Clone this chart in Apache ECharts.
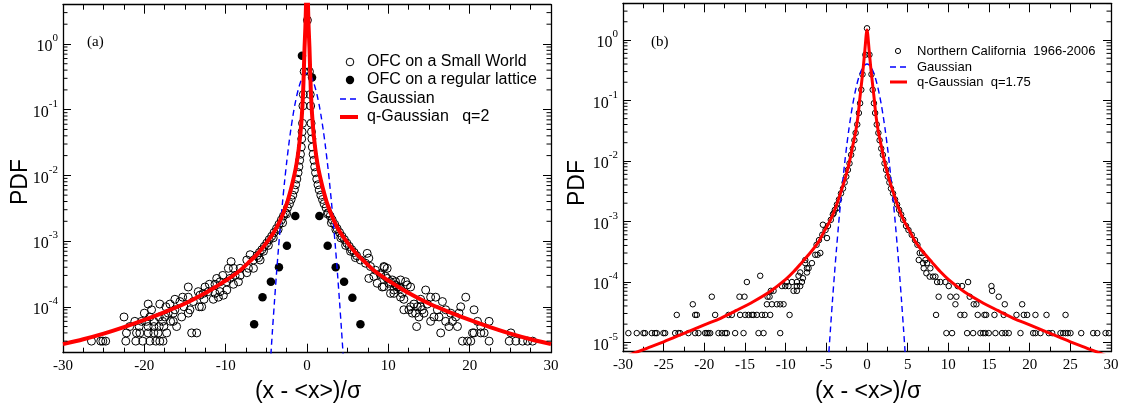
<!DOCTYPE html>
<html><head><meta charset="utf-8">
<script src="https://cdn.jsdelivr.net/npm/echarts@6/dist/echarts.min.js"></script>
<style>html,body{margin:0;padding:0;background:#fff}#c{width:1123px;height:409px}</style>
</head><body><div id="c"></div>
<script>
// ---------- Panel (a) data ----------
const smallWorldA = [
 [0.05,2.3],[-0.35,0.38],[0.3,0.38],[-0.45,0.17],[0.4,0.17],[-0.5,0.114],[0.45,0.114],
 [-0.55,0.062],[0.5,0.062],[-0.6,0.046],[0.55,0.046],[-0.65,0.036],[0.6,0.036],[-0.7,0.027],[0.65,0.027],
 [-0.8,0.021],[0.75,0.021],[-0.9,0.017],[0.85,0.017],[-1.0,0.0135],[0.95,0.0135],[-1.1,0.011],[1.05,0.011],
 [-1.25,0.0088],[1.2,0.0088],[-1.4,0.0072],[1.35,0.0072],[-1.55,0.006],[1.5,0.006],[-1.75,0.005],[1.7,0.005],
 [-1.95,0.0043],[1.9,0.0043],[-2.15,0.0037],[2.1,0.0037],[-2.4,0.0032],[2.35,0.0032],[-2.65,0.0027],[2.6,0.0027],
 [-2.9,0.0024],[2.85,0.0024],[-3.15,0.0021],[3.1,0.0021],[-3.45,0.0018],[3.4,0.0018],[-3.75,0.00155],[3.7,0.00155],
 [-4.05,0.00135],[4.0,0.00135],[-4.35,0.00118],[4.3,0.00118],[-4.65,0.00105],[4.6,0.00105],[-4.95,0.00093],[4.9,0.00093],
 [-5.25,0.00083],[5.2,0.00083],[-5.55,0.00074],[5.5,0.00074],[-5.85,0.00067],[5.8,0.00067],[-6.15,0.0006],[6.1,0.0006],
 [-2.5,0.0026],[2.5,0.0026],[-3.0,0.0019],[3.0,0.0019],[-3.55,0.0015],[3.55,0.0015],[-4.15,0.00112],[4.15,0.00112],
 [-4.75,0.00086],[4.75,0.00086],[-5.35,0.0007],[5.35,0.0007],[-5.95,0.00056],[5.95,0.00056],
 // left tail
 [-26.5,3e-5],[-25.36,3e-5],[-25.1,3e-5],[-24.75,3e-5],[-22.28,3e-5],[-21.05,3e-5],[-20.2,3e-5],[-19.32,3e-5],[-18.58,3e-5],[-18.1,3e-5],[-17.7,3e-5],
 [-22.2,4e-5],[-20.96,4e-5],[-20.55,4e-5],[-19.53,4e-5],[-18.83,4e-5],[-18.3,4e-5],[-17.26,4e-5],[-14.18,4e-5],[-13.56,4e-5],
 [-21.8,5e-5],[-20.64,5e-5],[-19.53,5e-5],[-18.83,5e-5],[-18.17,5e-5],[-17.6,5e-5],[-16.03,5e-5],
 [-21.17,6e-5],[-20.35,6e-5],[-19.73,6e-5],[-18.83,6e-5],[-17.76,6e-5],[-16.77,6e-5],[-16.44,6e-5],
 [-22.5,7e-5],[-19.32,7e-5],[-18.17,7e-5],[-17.47,7e-5],[-15.41,7e-5],
 [-17.06,8e-5],[-16.44,8e-5],[-14.6,8e-5],[-20.0,8e-5],
 [-19.11,9e-5],[-16.24,9e-5],[-14.39,9e-5],
 [-17.35,1.0e-4],[-15.13,1.0e-4],[-13.24,1.0e-4],[-12.95,1.0e-4],
 [-19.53,1.1e-4],[-18.1,1.1e-4],[-16.85,1.1e-4],
 [-15.62,1.2e-4],[-13.98,1.2e-4],
 [-16.24,1.3e-4],[-12.66,1.3e-4],[-11.52,1.3e-4],
 [-15.29,1.4e-4],[-14.6,1.4e-4],[-10.9,1.4e-4],
 [-13.16,1.5e-4],[-10.28,1.5e-4],
 [-12.75,1.6e-4],[-11.31,1.6e-4],
 [-13.37,1.7e-4],[-12.13,1.7e-4],[-10.69,1.7e-4],
 [-9.86,1.8e-4],[-14.6,2.0e-4],[-12.54,2.0e-4],
 [-12.0,2.2e-4],[-11.31,2.2e-4],[-9.05,2.2e-4],
 [-10.69,2.4e-4],[-9.86,2.4e-4],[-8.43,2.4e-4],
 [-11.1,2.7e-4],[-9.46,2.7e-4],
 [-10.36,3.0e-4],[-8.84,3.0e-4],[-8.22,3.0e-4],[-7.4,3.3e-4],
 [-9.67,3.85e-4],[-9.05,3.85e-4],[-8.22,3.85e-4],[-7.2,3.85e-4],[-6.58,3.85e-4],
 [-9.33,4.86e-4],[-7.4,5.15e-4],[-6.58,5.15e-4],[-5.76,5.15e-4],[-6.99,6.2e-4],
 // right tail
 [6.57,5.15e-4],[7.19,4.6e-4],[7.8,4.1e-4],[8.42,3.6e-4],[9.04,3.2e-4],[9.65,2.9e-4],[10.27,2.4e-4],[10.89,2.15e-4],[11.5,1.9e-4],
 [7.6,5.5e-4],[7.4,6.5e-4],[9.45,4.1e-4],[9.86,3.85e-4],[7.6,2.7e-4],[8.22,2.9e-4],[8.63,2.28e-4],[9.24,2.0e-4],[10.68,1.6e-4],
 [9.53,4.0e-4],[9.04,3.05e-4],[9.86,2.7e-4],[10.48,2.56e-4],[10.89,2.41e-4],[11.5,2.56e-4],[12.12,2.41e-4],[12.33,2.15e-4],
 [12.74,2.0e-4],[11.3,2.02e-4],[10.68,1.8e-4],[10.27,1.6e-4],[11.5,1.4e-4],[11.91,9e-5],[12.53,9e-5],[13.15,1.1e-4],
 [13.35,8e-5],[12.95,8e-5],[13.56,1.0e-4],[13.97,1.3e-4],[14.18,9e-5],[14.59,1.8e-4],[14.8,1.1e-4],[15.2,1.4e-4],
 [15.82,1.4e-4],[16.03,9e-5],[16.23,7e-5],[16.65,1.2e-4],[17.05,9e-5],[17.67,8e-5],[17.88,6e-5],[18.29,7e-5],
 [18.69,8e-5],[18.9,1.0e-4],[19.52,1.4e-4],[16.44,4e-5],[13.48,5e-5],[17.46,5e-5],[18.5,5e-5],[19.11,3e-5],
 [19.73,3e-5],[20.14,3e-5],[20.35,4e-5],[20.54,9e-5],[20.96,6e-5],[21.37,5e-5],[21.78,4e-5],[22.39,6e-5],
 [22.39,3e-5],[25.07,4e-5],[24.86,3e-5],[25.68,3e-5],[26.51,3e-5],[27.13,3e-5],[27.74,3e-5],[20.54,4e-5],
 [21.37,4e-5],[17.05,6e-5],[15.61,7e-5],[15.2,6e-5],[14.38,8e-5],[13.97,1.0e-4],[13.76,7e-5],[12.74,1.0e-4],
 [11.91,1.3e-4],[11.71,1.6e-4],[11.1,2.0e-4],[10.07,2.28e-4],[9.45,2.02e-4]
];
const latticeA = [
 [-0.62,0.66],[0.62,0.31],[-1.44,2.4e-3],[1.52,2.4e-3],[-2.47,8.5e-4],[2.54,8.5e-4],[-3.45,4.0e-4],[3.53,4.0e-4],
 [-4.44,2.4e-4],[4.56,2.4e-4],[-5.47,1.4e-4],[5.58,1.37e-4],[-6.5,5.4e-5],[6.57,5.4e-5]
];
const gaussAX = [-4.75,-4.5,-4.25,-4,-3.75,-3.5,-3.25,-3,-2.75,-2.5,-2.25,-2,-1.75,-1.5,-1.25,-1,-0.75,-0.5,-0.25,0,0.25,0.5,0.75,1,1.25,1.5,1.75,2,2.25,2.5,2.75,3,3.25,3.5,3.75,4,4.25,4.5,4.75];
const gaussAY = [4.6e-6,1.44e-5,4.3e-5,1.2e-4,3.2e-4,7.9e-4,0.00183,0.004,0.0082,0.0158,0.0287,0.0487,0.0779,0.117,0.165,0.218,0.272,0.318,0.349,0.36,0.349,0.318,0.272,0.218,0.165,0.117,0.0779,0.0487,0.0287,0.0158,0.0082,0.004,0.00183,7.9e-4,3.2e-4,1.2e-4,4.3e-5,1.44e-5,4.6e-6];
const qGaussAX = [-30,-27.5,-25,-22.5,-20,-17.5,-15,-12.5,-11,-9.5,-8.2,-7.2,-6.3,-5.5,-4.7,-4.0,-3.4,-2.9,-2.4,-2.0,-1.7,-1.4,-1.2,-1.0,-0.8,-0.65,-0.5,-0.4,-0.3,-0.2,-0.1,0,
 0.1,0.2,0.3,0.4,0.5,0.65,0.8,1.0,1.2,1.4,1.7,2.0,2.4,2.9,3.4,4.0,4.7,5.5,6.3,7.2,8.2,9.5,11,12.5,15,17.5,20,22.5,25,27.5,30];
const qGaussAY = [2.7e-5,3.2e-5,3.9e-5,4.9e-5,6.3e-5,8.3e-5,1.12e-4,1.62e-4,2.1e-4,2.75e-4,3.6e-4,4.7e-4,6.0e-4,7.8e-4,1.05e-3,1.41e-3,1.95e-3,2.7e-3,4.0e-3,6.0e-3,8.5e-3,0.0126,0.0174,0.0263,0.0447,0.076,0.158,0.355,0.89,1.78,5.0,15.8,
 5.0,1.78,0.89,0.355,0.158,0.076,0.0447,0.0263,0.0174,0.0126,8.5e-3,6.0e-3,4.0e-3,2.7e-3,1.95e-3,1.41e-3,1.05e-3,7.8e-4,6.0e-4,4.7e-4,3.6e-4,2.75e-4,2.1e-4,1.62e-4,1.12e-4,8.3e-5,6.3e-5,4.9e-5,3.9e-5,3.2e-5,2.7e-5];

// ---------- Panel (b) data ----------
const californiaB = [
 [0,1.56],[-0.2,0.57],[0.3,0.57],[-0.55,0.27],[0.55,0.27],[-0.7,0.15],[0.7,0.15],[-0.85,0.09],[0.85,0.09],
 [-1.0,0.062],[1.0,0.062],[-1.2,0.04],[1.2,0.04],[-1.4,0.029],[1.4,0.029],[-1.55,0.022],[1.55,0.022],
 [-1.75,0.016],[1.75,0.016],[-1.95,0.0126],[1.95,0.0126],[-2.15,0.0091],[2.15,0.0091],[-2.35,0.0071],[2.35,0.0071],
 [-2.55,0.0055],[2.55,0.0055],[-2.75,0.0044],[2.75,0.0044],[-2.95,0.0035],[2.95,0.0035],[-3.2,0.0029],[3.2,0.0029],
 [-3.45,0.0023],[3.45,0.0023],[-3.7,0.0019],[3.7,0.0019],[-3.95,0.00155],[3.95,0.00155],[-4.2,0.0013],[4.2,0.0013],
 [-4.45,0.00106],[4.45,0.00106],[-4.8,0.00084],[4.8,0.00084],[-5.1,0.00072],[5.1,0.00072],[-5.5,0.0006],[5.5,0.0006],
 [-5.9,0.00049],[5.9,0.00049],[-6.2,0.00041],[6.2,0.00041],
 // left tail
 [-29.34,1.42e-5],[-28.31,1.42e-5],[-27.49,1.42e-5],[-27.29,1.42e-5],[-26.46,1.42e-5],[-26.06,1.42e-5],[-25.85,1.42e-5],
 [-25.03,1.42e-5],[-24.82,1.42e-5],[-23.59,1.42e-5],[-23.18,1.42e-5],[-22.98,1.42e-5],[-21.96,1.42e-5],[-21.13,1.42e-5],
 [-20.72,1.42e-5],[-19.9,1.42e-5],[-19.69,1.42e-5],[-19.49,1.42e-5],[-19.28,1.42e-5],[-18.26,1.42e-5],[-17.85,1.42e-5],
 [-17.44,1.42e-5],[-17.23,1.42e-5],[-16.21,1.42e-5],[-15.18,1.42e-5],[-13.34,1.42e-5],[-12.72,1.42e-5],[-10.67,1.42e-5],
 [-23.39,2.84e-5],[-21.13,2.84e-5],[-20.92,2.84e-5],[-18.67,2.84e-5],[-17.03,2.84e-5],[-16.62,2.84e-5],[-15.6,2.84e-5],
 [-14.98,2.84e-5],[-14.57,2.84e-5],[-14.15,2.84e-5],[-13.96,2.84e-5],[-13.54,2.84e-5],[-12.92,2.84e-5],[-12.52,2.84e-5],
 [-11.9,2.84e-5],[-9.52,2.84e-5],
 [-21.42,4.26e-5],[-12.31,4.26e-5],[-11.69,4.26e-5],[-11.08,4.26e-5],[-10.67,4.26e-5],[-10.26,4.26e-5],
 [-19.08,5.68e-5],[-15.68,5.68e-5],[-15.06,5.68e-5],[-12.23,5.68e-5],[-11.98,5.68e-5],
 [-11.82,7.1e-5],[-11.49,7.1e-5],[-9.03,7.1e-5],[-8.62,7.1e-5],
 [-10.46,8.52e-5],[-10.05,8.52e-5],[-9.65,8.52e-5],[-8.62,8.52e-5],[-8.21,8.52e-5],
 [-14.77,9.94e-5],[-9.85,9.94e-5],[-9.23,9.94e-5],[-8.62,9.94e-5],[-8.0,9.94e-5],
 [-13.13,1.26e-4],[-8.42,1.26e-4],[-7.88,1.15e-4],[-8.21,1.43e-4],[-7.38,1.43e-4],[-7.38,1.68e-4],[-7.18,1.68e-4],
 [-7.59,2.04e-4],[-6.77,2.04e-4],[-7.59,2.3e-4],[-6.36,2.8e-4],[-6.08,2.8e-4],[-5.74,3.0e-4],[-4.92,5.3e-4],
 [-5.42,8.8e-4],[-4.1,1.36e-3],[-3.69,1.66e-3],
 // right tail
 [9.76,1.42e-5],[10.46,1.42e-5],[12.31,1.42e-5],[13.05,1.42e-5],[13.94,1.42e-5],[14.28,1.42e-5],[14.56,1.42e-5],
 [14.97,1.42e-5],[15.79,1.42e-5],[16.61,1.42e-5],[17.02,1.42e-5],[17.43,1.42e-5],[18.87,1.42e-5],[20.43,1.42e-5],
 [20.71,1.42e-5],[21.33,1.42e-5],[22.35,1.42e-5],[22.77,1.42e-5],[23.79,1.42e-5],[24.12,1.42e-5],[24.41,1.42e-5],
 [24.69,1.42e-5],[25.02,1.42e-5],[26.34,1.42e-5],[27.81,1.42e-5],[28.31,1.42e-5],[29.33,1.42e-5],[29.74,1.42e-5],
 [8.49,2.84e-5],[11.48,2.84e-5],[11.98,2.84e-5],[13.61,2.84e-5],[14.44,2.84e-5],[14.65,2.84e-5],[15.67,2.84e-5],
 [16.81,2.84e-5],[18.38,2.84e-5],[19.28,2.84e-5],[19.69,2.84e-5],[20.71,2.84e-5],[22.07,2.84e-5],[24.41,2.84e-5],
 [10.87,4.26e-5],[13.12,4.26e-5],[13.45,4.26e-5],[16.94,4.26e-5],[19.08,4.26e-5],
 [8.81,5.68e-5],[10.25,5.68e-5],[10.99,5.68e-5],[12.63,5.68e-5],[16.2,5.68e-5],
 [15.38,7.1e-5],[10.05,8.52e-5],[11.15,8.52e-5],[11.69,8.52e-5],[15.3,8.52e-5],
 [8.62,9.94e-5],[9.02,9.94e-5],[9.64,9.94e-5],[12.43,9.94e-5],
 [7.71,1.22e-4],[8.12,1.22e-4],[8.41,1.22e-4],[7.3,1.39e-4],[6.97,1.68e-4],[7.79,1.68e-4],
 [6.89,2.04e-4],[7.38,2.04e-4],[6.36,2.3e-4],[7.18,2.3e-4],[6.48,3.0e-4],[6.77,3.0e-4]
];
const gaussBX = [-5,-4.75,-4.5,-4.25,-4,-3.75,-3.5,-3.25,-3,-2.75,-2.5,-2.25,-2,-1.75,-1.5,-1.25,-1,-0.75,-0.5,-0.25,0,0.25,0.5,0.75,1,1.25,1.5,1.75,2,2.25,2.5,2.75,3,3.25,3.5,3.75,4,4.25,4.5,4.75,5];
const gaussBY = [1.5e-6,5.1e-6,1.6e-5,4.8e-5,1.34e-4,3.5e-4,8.7e-4,0.00203,0.0044,0.0091,0.0175,0.0318,0.054,0.0865,0.13,0.183,0.243,0.302,0.353,0.388,0.40,0.388,0.353,0.302,0.243,0.183,0.13,0.0865,0.054,0.0318,0.0175,0.0091,0.0044,0.00203,8.7e-4,3.5e-4,1.34e-4,4.8e-5,1.6e-5,5.1e-6,1.5e-6];
const qGaussBX = [-30,-27.5,-25,-22.5,-20,-18,-16,-14,-12,-10,-9,-8,-7,-6,-5.2,-4.5,-3.8,-3.1,-2.6,-2.1,-1.75,-1.4,-1.1,-0.9,-0.7,-0.45,-0.25,0,
 0.25,0.45,0.7,0.9,1.1,1.4,1.75,2.1,2.6,3.1,3.8,4.5,5.2,6,7,8,9,10,12,14,16,18,20,22.5,25,27.5,30];
const qGaussBY = [5.6e-6,7.6e-6,1.02e-5,1.41e-5,1.95e-5,2.5e-5,3.4e-5,4.7e-5,6.8e-5,1.1e-4,1.48e-4,2.1e-4,3.0e-4,4.5e-4,7.1e-4,1.05e-3,1.78e-3,3.4e-3,5.6e-3,0.0105,0.0178,0.03,0.056,0.102,0.178,0.363,0.708,1.46,
 0.708,0.363,0.178,0.102,0.056,0.03,0.0178,0.0105,5.6e-3,3.4e-3,1.78e-3,1.05e-3,7.1e-4,4.5e-4,3.0e-4,2.1e-4,1.48e-4,1.1e-4,6.8e-5,4.7e-5,3.4e-5,2.5e-5,1.95e-5,1.41e-5,1.02e-5,7.6e-6,5.6e-6];

// ---------- axis tick settings ----------
const minorMultipliers = [2,3,4,5,6,7,8,9];
const decadesA = [-5,-4,-3,-2,-1,0];
const decadesB = [-6,-5,-4,-3,-2,-1,0];
const xRange = [-30, 30];
const yRangeA = [2.0e-5, 3.96];
const yRangeB = [7.0e-6, 4.04];

const zip = (xs, ys) => xs.map((x, i) => [x, ys[i]]);
const minorVals = (decs, r) => {
  const out = [];
  decs.forEach(d => minorMultipliers.forEach(m => { const v = m * Math.pow(10, d); if (v > r[0] && v < r[1]) out.push([0, v]); }));
  return out;
};

const SERIF = 'Liberation Serif', SANS = 'Liberation Sans';
const lineStyleFrame = { color: '#000', width: 1.3 };

function makeX(gi, interval, split, pos) {
  const label = pos === 'bottom';
  return {
    type: 'value', gridIndex: gi, position: pos, min: xRange[0], max: xRange[1], interval: interval,
    axisLine: { show: true, onZero: false, lineStyle: lineStyleFrame },
    axisTick: { show: true, inside: true, length: 9, lineStyle: { color: '#000', width: 1 } },
    minorTick: { show: true, splitNumber: split, length: 5, lineStyle: { color: '#000', width: 1 } },
    splitLine: { show: false },
    axisLabel: { show: label, margin: 6, color: '#000', fontFamily: SERIF, fontSize: 15 }
  };
}
function yFormatter(v) {
  const l = Math.log10(v); const e = Math.round(l);
  if (Math.abs(l - e) > 1e-6) return '';
  return '{b|10}{s|' + e + '}';
}
function makeY(gi, range, pos) {
  const label = pos === 'left';
  return {
    type: 'log', logBase: 10, gridIndex: gi, position: pos, min: range[0], max: range[1],
    axisLine: { show: true, onZero: false, lineStyle: lineStyleFrame },
    axisTick: { show: true, inside: true, length: 8, lineStyle: { color: '#000', width: 1 } },
    splitLine: { show: false }, minorTick: { show: false },
    axisLabel: { show: label, margin: 5, formatter: yFormatter,
      rich: { b: { fontFamily: SERIF, fontSize: 16, color: '#000', lineHeight: 22, verticalAlign: 'bottom' },
              s: { fontFamily: SERIF, fontSize: 11, color: '#000', lineHeight: 11, verticalAlign: 'top' } } }
  };
}
function minorTickSeries(xi, yi, data) {
  return {
    type: 'custom', xAxisIndex: xi, yAxisIndex: yi, silent: true, data: data, z: 5,
    renderItem: function (params, api) {
      const cs = params.coordSys;
      const y = api.coord([0, api.value(1)])[1];
      if (y < cs.y || y > cs.y + cs.height) return;
      const st = { stroke: '#000', lineWidth: 1 };
      return { type: 'group', children: [
        { type: 'line', shape: { x1: cs.x, y1: y, x2: cs.x + 4.5, y2: y }, style: st },
        { type: 'line', shape: { x1: cs.x + cs.width - 4.5, y1: y, x2: cs.x + cs.width, y2: y }, style: st }
      ] };
    }
  };
}

const chart = echarts.init(document.getElementById('c'), null, { renderer: 'canvas' });
const txt = (x, y, text, size, family, extra) => Object.assign({ type: 'text', x: x, y: y, silent: true,
  style: { text: text, fontSize: size, fontFamily: family, fill: '#000', align: 'left', verticalAlign: 'middle' } }, extra || {});
const ctr = (text, size, family) => ({ style: { text: text, fontSize: size, fontFamily: family, fill: '#000', align: 'center', verticalAlign: 'middle' } });

chart.setOption({
  animation: false,
  backgroundColor: '#fff',
  grid: [
    { left: 63, top: 4.7, width: 488, height: 348 },
    { left: 623, top: 3.3, width: 488, height: 348.4 }
  ],
  xAxis: [ makeX(0, 10, 4, 'bottom'), makeX(0, 10, 4, 'top'), makeX(1, 5, 2, 'bottom'), makeX(1, 5, 2, 'top') ],
  yAxis: [ makeY(0, yRangeA, 'left'), makeY(0, yRangeA, 'right'), makeY(1, yRangeB, 'left'), makeY(1, yRangeB, 'right') ],
  series: [
    minorTickSeries(0, 0, minorVals(decadesA, yRangeA)),
    { type: 'scatter', xAxisIndex: 0, yAxisIndex: 0, data: smallWorldA, symbol: 'circle', symbolSize: 8,
      itemStyle: { color: 'rgba(0,0,0,0)', borderColor: '#000', borderWidth: 1, opacity: 1 }, z: 2 },
    { type: 'scatter', xAxisIndex: 0, yAxisIndex: 0, data: latticeA, symbol: 'circle', symbolSize: 8.5,
      itemStyle: { color: '#000', opacity: 1 }, z: 2 },
    { type: 'line', xAxisIndex: 0, yAxisIndex: 0, data: zip(gaussAX, gaussAY), showSymbol: false, smooth: 0.3,
      lineStyle: { color: '#0000ff', width: 1.4, type: [6, 4] }, z: 3 },
    { type: 'line', xAxisIndex: 0, yAxisIndex: 0, data: zip(qGaussAX, qGaussAY), showSymbol: false, smooth: 0.3,
      lineStyle: { color: '#ff0000', width: 4 }, z: 4 },

    minorTickSeries(2, 2, minorVals(decadesB, yRangeB)),
    { type: 'scatter', xAxisIndex: 2, yAxisIndex: 2, data: californiaB, symbol: 'circle', symbolSize: 5.5,
      itemStyle: { color: 'rgba(0,0,0,0)', borderColor: '#000', borderWidth: 1, opacity: 1 }, z: 2 },
    { type: 'line', xAxisIndex: 2, yAxisIndex: 2, data: zip(gaussBX, gaussBY), showSymbol: false, smooth: 0.3,
      lineStyle: { color: '#0000ff', width: 1.4, type: [6, 4] }, z: 3 },
    { type: 'line', xAxisIndex: 2, yAxisIndex: 2, data: zip(qGaussBX, qGaussBY), showSymbol: false, smooth: 0.3,
      lineStyle: { color: '#ff0000', width: 3 }, z: 4 }
  ],
  graphic: [
    txt(87, 42, '(a)', 15, SERIF),
    txt(651, 42, '(b)', 15, SERIF),
    txt(21, 182, 'PDF', 23, SANS, Object.assign({ rotation: Math.PI / 2 }, ctr('PDF', 23, SANS))),
    txt(578, 183, 'PDF', 23, SANS, Object.assign({ rotation: Math.PI / 2 }, ctr('PDF', 23, SANS))),
    txt(308, 392, '(x - <x>)/σ', 23, SANS, ctr('(x - <x>)/σ', 23, SANS)),
    txt(868, 392, '(x - <x>)/σ', 23, SANS, ctr('(x - <x>)/σ', 23, SANS)),
    // legend (a)
    { type: 'circle', silent: true, shape: { cx: 350, cy: 62, r: 3.8 }, style: { fill: 'none', stroke: '#000', lineWidth: 1 } },
    txt(367, 62, 'OFC on a Small World', 16, SANS),
    { type: 'circle', silent: true, shape: { cx: 350, cy: 80, r: 4.2 }, style: { fill: '#000' } },
    txt(367, 80, 'OFC on a regular lattice', 16, SANS),
    { type: 'line', silent: true, shape: { x1: 340, y1: 99, x2: 357, y2: 99 }, style: { stroke: '#0000ff', lineWidth: 1.4, lineDash: [6, 4] } },
    txt(367, 99, 'Gaussian', 16, SANS),
    { type: 'line', silent: true, shape: { x1: 340, y1: 117, x2: 358, y2: 117 }, style: { stroke: '#ff0000', lineWidth: 4 } },
    txt(367, 117, 'q-Gaussian   q=2', 16, SANS),
    // legend (b)
    { type: 'circle', silent: true, shape: { cx: 898, cy: 51, r: 2.6 }, style: { fill: 'none', stroke: '#000', lineWidth: 1 } },
    txt(917, 51, 'Northern California  1966-2006', 13, SANS),
    { type: 'line', silent: true, shape: { x1: 890, y1: 67, x2: 907, y2: 67 }, style: { stroke: '#0000ff', lineWidth: 1.4, lineDash: [6, 4] } },
    txt(917, 67, 'Gaussian', 13, SANS),
    { type: 'line', silent: true, shape: { x1: 890, y1: 82, x2: 907, y2: 82 }, style: { stroke: '#ff0000', lineWidth: 3 } },
    txt(917, 82, 'q-Gaussian  q=1.75', 13, SANS)
  ]
});
</script></body></html>
